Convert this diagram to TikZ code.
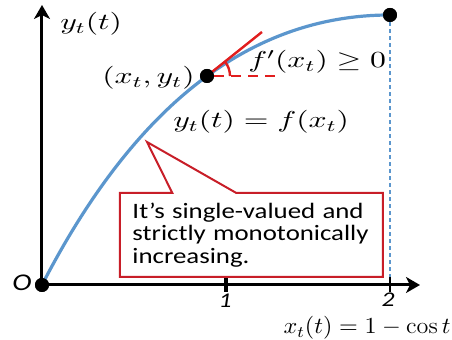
\RequirePackage{fix-cm}
\documentclass[tikz,border=0pt]{standalone}
\usepackage{fontspec}
\usepackage{amsmath}
\usepackage{amsfonts, amssymb}
\usepackage{tikz}
\usetikzlibrary{arrows.meta, calc, shapes.callouts}

\newfontfamily\boxfont[FakeStretch=1.22]{Carlito}
\definecolor{curveblue}{RGB}{91,150,205}
\definecolor{tanred}{RGB}{225,30,30}
\definecolor{boxred}{RGB}{200,30,40}
\newcommand{\wmath}[2][1.38]{\scalebox{#1}[1]{$#2$}}

\begin{document}
\begin{tikzpicture}[x=0.5pt, y=0.5pt,
    axis/.style={line width=1.5pt, -{Stealth[length=7pt, width=8pt, inset=2pt]}},
    dot/.style={circle, fill=black, inner sep=0pt, minimum size=7pt},
    mathlbl/.style={inner sep=0pt, font=\fontsize{11.5}{13}\selectfont},
    ticklbl/.style={inner sep=0pt, font=\fontsize{10.5}{12}\selectfont\boxfont\itshape},
    redline/.style={tanred, line width=1.2pt}]

\useasboundingbox (0,0) rectangle (452,340);

% points on the curve
\node[dot] (O) at (42,55) {};
\node[dot] (P) at (207,264) {};
\node[dot] (E) at (390,325) {};

\coordinate (ytip) at (42,335);
\coordinate (xtip) at (420,55);
\coordinate (E0) at (390,55);
\coordinate (T) at (262,308);
\coordinate (H) at (282,264);

% dashed drop from the end point
\draw[curveblue, line width=0.6pt, dash pattern=on 2pt off 1.5pt] (E) -- (E0);

% axes
\draw[axis] (O.center) -- (ytip);
\draw[axis] (O.center) -- (xtip);

% ticks at 1 and 2
\draw[line width=1.8pt] (226,48) -- (226,63);
\draw[line width=1.2pt] (390,48) -- (390,63);

% the curve
\draw[curveblue, line width=1.6pt] (O.center) .. controls (134.7,235) and (250.7,325) .. (E.center);

% tangent, horizontal and angle
\draw[redline] (P.center) -- (T);
\draw[redline, dash pattern=on 5pt off 3.5pt] (P.east) -- (H);
\draw[redline] ($(P.center)+(23,0)$) arc[start angle=0, end angle=38.7, radius=23];

% dots again on top
\node[dot] at (O) {};
\node[dot] at (P) {};
\node[dot] at (E) {};

% labels
\node[font=\fontsize{12}{14}\selectfont\boxfont\itshape, inner sep=0pt] (Olbl) at (22,57) {O};
\node[ticklbl] (one) at (225,39) {1};
\node[ticklbl] (two) at (388,40) {2};
\node[mathlbl, anchor=west] (ylbl) at (60,316) {\wmath{y_t(t)}};
\node[mathlbl, anchor=east] (Plbl) at (195,262) {\wmath{(x_t, y_t)}};
\node[mathlbl, anchor=west] (slope) at (248,278) {\wmath{f'(x_t) \geq 0}};
\node[mathlbl, anchor=west] (flbl) at (173,218) {\wmath{y_t(t) = f(x_t)}};
\node[mathlbl, anchor=east] (xlbl) at (451,12) {\wmath[1.05]{x_t(t) = 1 - \cos t}};

% callout
\node[rectangle callout, callout absolute pointer={(147,198)}, callout pointer width=32pt,
      draw=boxred, line width=1pt, fill=white, minimum width=131.5pt, minimum height=42pt,
      inner xsep=6pt, text width=119pt, align=left,
      font=\fontsize{11}{11.3}\selectfont\boxfont] (note) at (251.5,105)
      {It’s single-valued and\\ strictly monotonically\\ increasing.};

\end{tikzpicture}
\end{document}
